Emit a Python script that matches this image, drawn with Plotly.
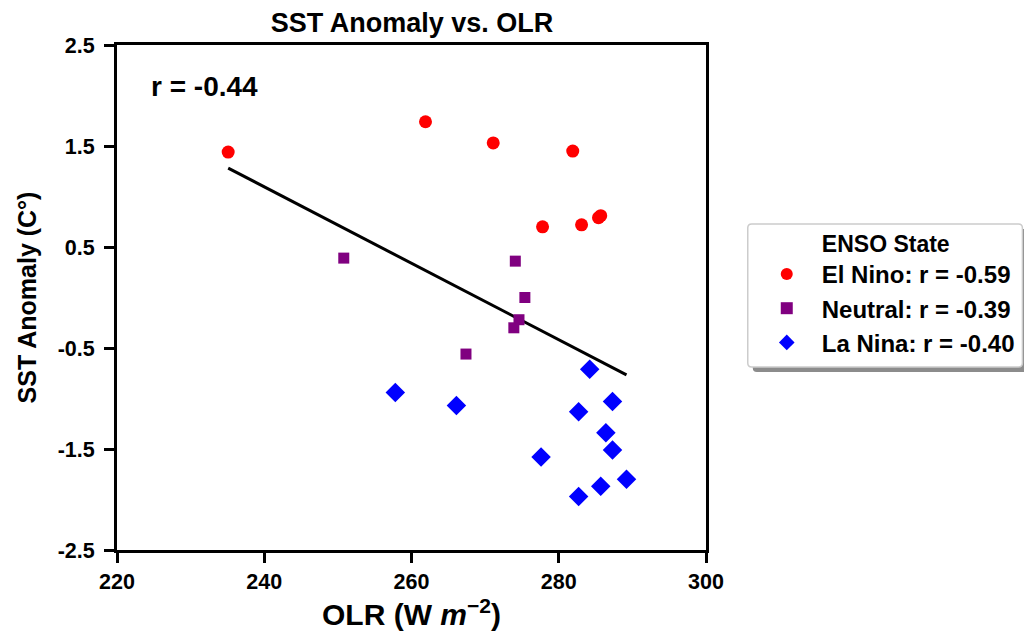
import numpy as np
import plotly.graph_objects as go

# Data
elnino_olr = [235.1, 261.9, 271.1, 281.9, 277.8, 283.1, 285.4, 285.7]
elnino_sst = [1.44, 1.74, 1.53, 1.45, 0.70, 0.72, 0.79, 0.81]
neutral_olr = [250.8, 274.1, 275.4, 274.6, 273.9, 267.4]
neutral_sst = [0.39, 0.36, 0.00, -0.22, -0.30, -0.56]
lanina_olr = [257.8, 266.1, 284.2, 287.3, 282.7, 286.4, 287.3, 277.6, 289.2, 285.7, 282.7]
lanina_sst = [-0.94, -1.07, -0.71, -1.03, -1.13, -1.34, -1.51, -1.58, -1.80, -1.87, -1.97]

legend_names = ["El Nino: r = -0.59", "Neutral: r = -0.39", "La Nina: r = -0.40"]
overall_label = "r = -0.44"
x_ticks = [220, 240, 260, 280, 300]
y_ticks = [2.5, 1.5, 0.5, -0.5, -1.5, -2.5]

FONT = "Liberation Sans, Arial, sans-serif"

fig = go.Figure()

# regression line on all data
all_x = np.array(elnino_olr + neutral_olr + lanina_olr)
all_y = np.array(elnino_sst + neutral_sst + lanina_sst)
slope, intercept = np.polyfit(all_x, all_y, 1)
lx = np.array([all_x.min(), all_x.max()])
fig.add_trace(go.Scatter(x=lx, y=slope * lx + intercept, mode="lines",
                         line=dict(color="black", width=3), showlegend=False,
                         hoverinfo="skip"))

fig.add_trace(go.Scatter(x=elnino_olr, y=elnino_sst, mode="markers", name=legend_names[0],
                         marker=dict(symbol="circle", color="red", size=13)))
fig.add_trace(go.Scatter(x=neutral_olr, y=neutral_sst, mode="markers", name=legend_names[1],
                         marker=dict(symbol="square", color="purple", size=11)))
fig.add_trace(go.Scatter(x=lanina_olr, y=lanina_sst, mode="markers", name=legend_names[2],
                         marker=dict(symbol="diamond", color="blue", size=15)))

axis_common = dict(showline=True, linecolor="black", linewidth=3, mirror=True,
                   ticks="outside", ticklen=10, tickwidth=2.5, tickcolor="black",
                   showgrid=False, zeroline=False, automargin=False,
                   tickfont=dict(family=FONT, size=21.5, color="black", weight="bold"))

fig.update_xaxes(range=[220, 300], tickvals=x_ticks, **axis_common,
                 title=dict(text="OLR (W <i>m</i><sup>−2</sup>)",
                            font=dict(family=FONT, size=30, color="black", weight="bold"),
                            standoff=7))
fig.update_yaxes(range=[-2.5, 2.5], tickvals=y_ticks, ticktext=[str(v) for v in y_ticks],
                 ticklabelstandoff=5, **axis_common,
                 title=dict(text="SST Anomaly (C°)",
                            font=dict(family=FONT, size=25, color="black", weight="bold"),
                            standoff=14))

fig.add_annotation(x=0.055, y=0.953, xref="paper", yref="paper", xanchor="left", yanchor="top",
                   text=overall_label, showarrow=False,
                   font=dict(family=FONT, size=28, color="black", weight="bold"))


def rounded_box(x0, y0, x1, y1, rx=0.0068, ry=0.008):
    return (f"M {x0+rx},{y0} L {x1-rx},{y0} Q {x1},{y0} {x1},{y0+ry} "
            f"L {x1},{y1-ry} Q {x1},{y1} {x1-rx},{y1} "
            f"L {x0+rx},{y1} Q {x0},{y1} {x0},{y1-ry} "
            f"L {x0},{y0+ry} Q {x0},{y0} {x0+rx},{y0} Z")


# legend shadow and frame (paper coordinates)
fig.add_shape(type="path", xref="paper", yref="paper",
              path=rounded_box(1.0794, 0.3525, 1.5557, 0.6356),
              fillcolor="#8c8c8c", line=dict(width=0), layer="above")
fig.add_shape(type="path", xref="paper", yref="paper",
              path=rounded_box(1.0709, 0.3624, 1.5372, 0.6455),
              fillcolor="white", line=dict(color="#cccccc", width=1.5), layer="above")

fig.update_layout(
    width=1024, height=633,
    margin=dict(l=109, r=323, t=37, b=91),
    plot_bgcolor="white", paper_bgcolor="white",
    title=dict(text="SST Anomaly vs. OLR", x=0.3945, xref="container", xanchor="center",
               y=0.977, yref="container", yanchor="middle",
               font=dict(family=FONT, size=27, color="black", weight="bold")),
    legend=dict(x=1.0777, y=0.6495, xanchor="left", yanchor="top",
                bgcolor="rgba(0,0,0,0)", borderwidth=0,
                font=dict(family=FONT, size=24, color="black", weight="bold"),
                title=dict(text="ENSO State", side="top center",
                           font=dict(family=FONT, size=23, color="black", weight="bold")),
                itemsizing="constant", itemwidth=60, tracegroupgap=0),
    showlegend=True,
)

fig.write_html("out.html")
